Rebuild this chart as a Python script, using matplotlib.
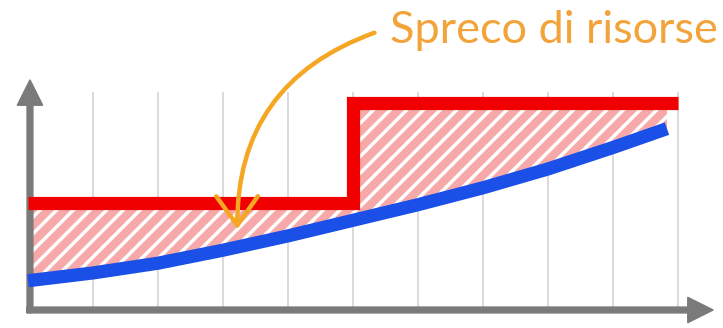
import numpy as np
import matplotlib
matplotlib.use("Agg")
import matplotlib.pyplot as plt

# capacity (step) and demand (curve)
red_x = [0, 5, 10]
red_y = [1.65, 3.18, 3.18]
blue_x = [0, 1, 2, 3, 4, 5, 6, 7, 8, 9, 9.83]
blue_y = [0.45, 0.57, 0.72, 0.92, 1.14, 1.38, 1.62, 1.88, 2.17, 2.50, 2.79]
grid_x = [1, 2, 3, 4, 5, 6, 7, 8, 9, 10]
label = "Spreco di risorse"

plt.rcParams['hatch.linewidth'] = 2.5

fig = plt.figure(figsize=(7.23, 3.28), dpi=100)
ax = fig.add_axes([0, 0, 1, 1])
ax.set_xlim(-0.431, 10.692)
ax.set_ylim(-0.277, 4.769)
ax.axis('off')

# grid
ax.vlines(grid_x, 0, 3.35, color='#d8d8d8', lw=1.3, zorder=1)

# wasted area between the two lines
bx = np.array(blue_x)
by = np.array(blue_y)
left = bx <= red_x[1]
right = bx >= red_x[1]
ax.fill_between(bx[left], by[left], red_y[0], facecolor='#f7a9a9',
                edgecolor='white', hatch='//', lw=0, zorder=2)
ax.fill_between(bx[right], by[right], red_y[1], facecolor='#f7a9a9',
                edgecolor='white', hatch='//', lw=0, zorder=2)

# lines
ax.step(red_x, red_y, where='post', color='#f00000', lw=9.5,
        solid_joinstyle='miter', solid_capstyle='butt', zorder=4)
ax.plot(blue_x, blue_y, color='#1a4fe8', lw=9.5, solid_capstyle='butt', zorder=4)

# axes arrows
gray = '#7a7a7a'
ax.arrow(0.03, -0.04, 0, 3.58, width=0.09, head_width=0.39, head_length=0.39,
         length_includes_head=True, color=gray, zorder=3)
ax.arrow(-0.02, 0, 10.56, 0, width=0.09, head_width=0.39, head_length=0.39,
         length_includes_head=True, color=gray, zorder=3)

# annotation
orange = '#f2a33a'
ax.annotate('', xy=(3.22, 1.2), xytext=(5.37, 4.28),
            arrowprops=dict(arrowstyle='->,head_length=0.7,head_width=0.5',
                            color='#f5a623', lw=3.2,
                            connectionstyle='arc3,rad=0.36',
                            mutation_scale=30),
            zorder=5)
ax.text(5.57, 4.108, label, color=orange, fontsize=32.5, family='Lato',
        ha='left', va='baseline', zorder=5)

fig.savefig('out.png', dpi=100)
